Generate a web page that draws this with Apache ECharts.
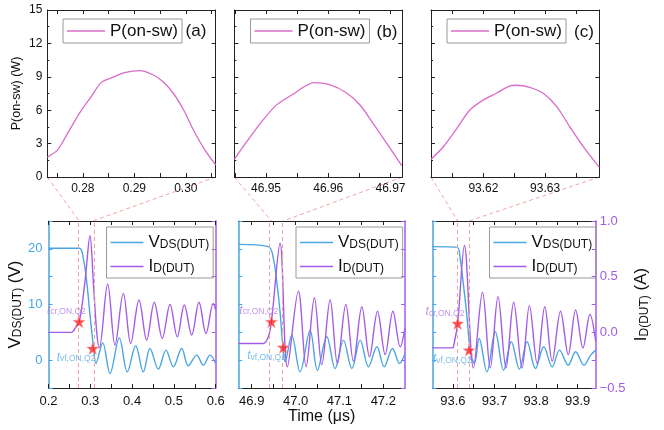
<!DOCTYPE html>
<html><head><meta charset="utf-8">
<script src="https://cdn.jsdelivr.net/npm/echarts@6/dist/echarts.min.js"></script>
<style>html,body{margin:0;padding:0;background:#fff}#c{width:664px;height:430px}</style>
</head><body><div id="c"></div>
<script>
// ---------------- data ----------------
const panelTags = ['(a)', '(b)', '(c)'];
// turn-on instants (dashed lines) = zoom window of the top panels
const tCr = [0.2731, 46.9449, 93.6115];
const tVf = [0.3058, 46.9719, 93.6388];
// star markers
const crStarI = [0.095, 0.095, 0.08];
const vfStarV = [2.1, 2.3, 1.8];
// lower time ranges
const lowMin = [0.2, 46.8694, 93.5505];
const lowMax = [0.6, 47.2495, 93.9435];
const lowLabels = [[0.2, 0.3, 0.4, 0.5, 0.6], [46.9, 47.0, 47.1, 47.2], [93.6, 93.7, 93.8, 93.9]];
const topLabels = [[0.28, 0.29, 0.30], [46.95, 46.96, 46.97], [93.62, 93.63]];
const pLabels = [0, 3, 6, 9, 12, 15];

// P(on-sw) (W)
const P_A = [[0.2731,1.77],[0.2751,2.43],[0.2770,3.9],[0.2793,5.7],[0.2816,7.2],[0.2836,8.5],[0.2858,8.95],[0.2881,9.37],[0.2911,9.55],[0.2937,9.16],[0.2956,8.56],[0.2976,7.5],[0.2996,6.0],[0.3015,4.2],[0.3035,2.58],[0.3058,1.08]];
const P_B = [[46.9449,1.59],[46.9469,3.17],[46.9493,4.97],[46.9514,6.32],[46.9530,6.98],[46.9546,7.52],[46.9560,8.06],[46.9577,8.47],[46.9602,8.29],[46.9629,7.57],[46.9651,6.47],[46.9672,4.82],[46.9694,3.03],[46.9718,1.02]];
const P_C = [[93.6115,1.59],[93.6135,2.72],[93.6157,4.37],[93.6178,6.02],[93.6200,6.92],[93.6221,7.52],[93.6243,8.18],[93.6254,8.24],[93.6275,8.06],[93.6297,7.52],[93.6319,6.32],[93.6340,4.52],[93.6362,2.72],[93.6388,0.87]];

// V_DS(DUT) (V)
const V_A = [[0.2,20.1],[0.2737,20.1],[0.2833,18.3],[0.2914,14.1],[0.2993,8.1],[0.3072,2.7],[0.3136,-0.56],[0.3297,3.1],[0.3471,-2.4],[0.3694,4.0],[0.3885,-2.1],[0.4086,2.6],[0.4268,-2.1],[0.4428,2.1],[0.4627,-1.6],[0.4811,1.8],[0.4986,-1.2],[0.5187,2.1],[0.5344,-1.0],[0.5545,0.9],[0.5703,-0.9],[0.5864,0.9],[0.6,-0.6]];
const V_B = [[46.8694,20.8],[46.9379,20.4],[46.9493,18.3],[46.9571,14.1],[46.9646,8.7],[46.9708,2.7],[46.976,-0.3],[46.9913,4.5],[47.0103,-2.1],[47.0331,5.4],[47.0498,-1.8],[47.0712,4.2],[47.0902,-1.5],[47.1091,3.6],[47.1283,-1.5],[47.1473,3.6],[47.1662,-1.2],[47.1854,2.4],[47.2021,-1.2],[47.221,2.1],[47.237,-0.6],[47.2495,1.2]];
const V_C = [[93.5505,20.4],[93.6094,20.3],[93.6174,18.3],[93.6254,13.5],[93.6336,8.1],[93.6391,3.3],[93.6457,0.3],[93.652,-0.55],[93.6633,3.9],[93.6819,-2.1],[93.702,5.1],[93.722,-1.8],[93.7406,3.3],[93.7599,-1.6],[93.7785,3.3],[93.7986,-1.5],[93.8186,2.4],[93.8389,-1.2],[93.8565,1.8],[93.8775,-0.9],[93.8952,1.5],[93.9152,-0.9],[93.9314,0.9],[93.9435,1.8]];

// I_D(DUT) (A)
const I_A = [[0.2,0],[0.2555,0],[0.2634,0.036],[0.2737,0.095],[0.2873,0.455],[0.2993,0.868],[0.3072,0.455],[0.3153,0.005],[0.3215,-0.14],[0.3416,0.434],[0.3591,-0.114],[0.379,0.35],[0.3967,-0.099],[0.4165,0.29],[0.4349,-0.069],[0.4531,0.27],[0.4722,-0.054],[0.4907,0.25],[0.5081,-0.04],[0.5249,0.245],[0.5426,-0.024],[0.560,0.27],[0.5768,-0.01],[0.5943,0.26],[0.6,0.2]];
const I_B = [[46.8694,-0.10],[46.9265,-0.10],[46.9379,-0.04],[46.9449,0.095],[46.9646,0.80],[46.9813,-0.31],[47.0064,0.37],[47.024,-0.31],[47.0429,0.31],[47.0598,-0.29],[47.0788,0.29],[47.0954,-0.28],[47.1146,0.25],[47.132,-0.26],[47.1511,0.23],[47.1685,-0.22],[47.1868,0.19],[47.2043,-0.2],[47.2219,0.19],[47.2386,-0.13],[47.2495,0.04]];
const I_C = [[93.5505,-0.14],[93.598,-0.14],[93.604,-0.08],[93.6115,0.08],[93.6277,0.78],[93.6495,-0.32],[93.6713,0.36],[93.6899,-0.32],[93.7085,0.32],[93.7278,-0.32],[93.7462,0.27],[93.7664,-0.32],[93.7841,0.24],[93.8027,-0.28],[93.821,0.23],[93.8389,-0.26],[93.8589,0.19],[93.8775,-0.2],[93.8952,0.2],[93.9128,-0.14],[93.9297,0.16],[93.9435,-0.08]];

const P_ALL = [P_A, P_B, P_C], V_ALL = [V_A, V_B, V_C], I_ALL = [I_A, I_B, I_C];

// ---------------- style ----------------
const FONT = 'Liberation Sans, Arial, sans-serif';
const C_P = '#d96cc9', C_V = '#4aa6e2', C_I = '#a45be8', C_AX = '#222', C_DASH = '#f0a3a3', C_STAR = '#ff2424';
const STAR = 'path://M0,-10 L2.35,-3.24 L9.51,-3.09 L3.8,1.24 L5.88,8.09 L0,4 L-5.88,8.09 L-3.8,1.24 L-9.51,-3.09 L-2.35,-3.24 Z';

const topGrids = [
  {left: 47.3, top: 10, width: 168.4, height: 167},
  {left: 234.3, top: 10, width: 168, height: 167},
  {left: 431, top: 10, width: 168.3, height: 167}];
const lowGrids = [
  {left: 48.5, top: 221, width: 167.2, height: 167},
  {left: 238.3, top: 221, width: 166.7, height: 167},
  {left: 432.3, top: 221, width: 163.4, height: 167}];
const topLegendLeft = [63, 250.5, 447];
const lowLegendLeft = [106.5, 296, 489.5];
const tagPos = [[196, 31], [387, 32], [584, 32]];

function halfSteps(labels, step, min, max) {
  const out = [];
  const start = labels[0] - Math.ceil((labels[0] - min) / step) * step;
  for (let v = start; v <= max + 1e-9; v += step) if (v >= min - 1e-9) out.push(+v.toFixed(6));
  return out;
}
const minus = s => String(s).replace('-', '\u2212');

const grid = [...topGrids, ...lowGrids];
const xAxis = [], yAxis = [], series = [], legend = [];

const tickStyle = c => ({inside: true, length: 4, lineStyle: {color: c, width: 1}});
const subRich = {
  b: {fontSize: 17, lineHeight: 17, verticalAlign: 'top', fontFamily: FONT, color: '#111'},
  s: {fontSize: 12, lineHeight: 12, padding: [9, 0, 0, 0], verticalAlign: 'bottom', fontFamily: FONT, color: '#111'}};

for (let k = 0; k < 3; k++) {
  const tTicks = halfSteps(topLabels[k], 0.005, tCr[k], tVf[k]);
  xAxis[k] = {type: 'value', gridIndex: k, min: tCr[k], max: tVf[k], position: 'bottom',
    axisLine: {show: true, onZero: false, lineStyle: {color: C_AX}},
    axisTick: Object.assign(tickStyle(C_AX), {customValues: tTicks}),
    axisLabel: {customValues: topLabels[k], formatter: v => v.toFixed(2), fontSize: 12, color: '#111', margin: 6},
    splitLine: {show: false}};
  xAxis[3 + k] = {type: 'value', gridIndex: k, min: tCr[k], max: tVf[k], position: 'top',
    axisLine: {show: true, onZero: false, lineStyle: {color: C_AX}},
    axisTick: Object.assign(tickStyle(C_AX), {customValues: tTicks}),
    axisLabel: {show: false}, splitLine: {show: false}};
  const lTicks = halfSteps(lowLabels[k], 0.05, lowMin[k], lowMax[k]);
  xAxis[6 + k] = {type: 'value', gridIndex: 3 + k, min: lowMin[k], max: lowMax[k], position: 'bottom',
    axisLine: {show: true, onZero: false, lineStyle: {color: C_AX}},
    axisTick: Object.assign(tickStyle(C_AX), {customValues: lTicks}),
    axisLabel: {customValues: lowLabels[k], formatter: v => v.toFixed(1), fontSize: 13, color: '#111', margin: 7},
    splitLine: {show: false},
    name: k === 1 ? 'Time (\u03bcs)' : '', nameLocation: 'middle', nameGap: 19,
    nameTextStyle: {fontSize: 16, color: '#111', verticalAlign: 'top'}};
  xAxis[9 + k] = {type: 'value', gridIndex: 3 + k, min: lowMin[k], max: lowMax[k], position: 'top',
    axisLine: {show: true, onZero: false, lineStyle: {color: C_AX}},
    axisTick: Object.assign(tickStyle(C_AX), {customValues: lTicks}),
    axisLabel: {show: false}, splitLine: {show: false}};

  yAxis[k] = {type: 'value', gridIndex: k, min: 0, max: 15, interval: 3, position: 'left',
    axisLine: {show: true, onZero: false, lineStyle: {color: C_AX}},
    axisTick: tickStyle(C_AX), minorTick: {show: true, splitNumber: 2, length: 2, lineStyle: {color: C_AX}},
    axisLabel: {show: k === 0, customValues: pLabels, fontSize: 12, color: '#111', margin: 5},
    splitLine: {show: false}, minorSplitLine: {show: false},
    name: k === 0 ? 'P(on-sw) (W)' : '', nameLocation: 'middle', nameGap: 24, nameRotate: 90,
    nameTextStyle: {fontSize: 12.5, color: '#111'}};
  yAxis[3 + k] = {type: 'value', gridIndex: k, min: 0, max: 15, interval: 3, position: 'right',
    axisLine: {show: true, onZero: false, lineStyle: {color: C_AX}},
    axisTick: tickStyle(C_AX), axisLabel: {show: false}, splitLine: {show: false}};
  yAxis[6 + k] = {type: 'value', gridIndex: 3 + k, min: -5, max: 25, interval: 5, position: 'left',
    axisLine: {show: true, onZero: false, lineStyle: {color: C_V, width: 1.5}},
    axisTick: tickStyle(C_V),
    axisLabel: {show: k === 0, formatter: v => (v % 10 === 0 ? String(v) : ''), fontSize: 13, color: C_V, margin: 6},
    splitLine: {show: false},
    name: k === 0 ? '{b|V}{s|DS(DUT)}{b| (V)}' : '', nameLocation: 'middle', nameGap: 22, nameRotate: 90,
    nameTextStyle: {color: '#111', rich: subRich}};
  yAxis[9 + k] = {type: 'value', gridIndex: 3 + k, min: -0.5, max: 1.0, interval: 0.25, position: 'right',
    axisLine: {show: true, onZero: false, lineStyle: {color: C_I, width: 1.5}},
    axisTick: tickStyle(C_I),
    axisLabel: {show: k === 2, formatter: v => (Math.abs(v * 2 - Math.round(v * 2)) < 1e-9 ? minus(v.toFixed(1)) : ''),
      fontSize: 13, color: C_I, margin: 4},
    splitLine: {show: false},
    name: k === 2 ? '{b|I}{s|D(DUT)}{b| (A)}' : '', nameLocation: 'middle', nameGap: 34, nameRotate: 90,
    nameTextStyle: {color: '#111', rich: subRich}};

  series.push({type: 'line', name: 'P(on-sw)', xAxisIndex: k, yAxisIndex: k, data: P_ALL[k],
    symbol: 'none', smooth: 0.3, color: C_P, lineStyle: {color: C_P, width: 1.3}, clip: true, silent: true});
  series.push({type: 'line', name: 'V', xAxisIndex: 6 + k, yAxisIndex: 6 + k, data: V_ALL[k],
    symbol: 'none', smooth: 0.35, color: C_V, lineStyle: {color: C_V, width: 1.4}, clip: true, silent: true,
    markLine: {silent: true, symbol: 'none', label: {show: false},
      lineStyle: {color: C_DASH, type: [4, 3], width: 1},
      data: [{xAxis: tCr[k]}, {xAxis: tVf[k]}]}});
  series.push({type: 'line', name: 'I', xAxisIndex: 6 + k, yAxisIndex: 9 + k, data: I_ALL[k],
    symbol: 'none', smooth: 0.35, color: C_I, lineStyle: {color: C_I, width: 1.4}, clip: true, silent: true});
  const annRich = c => ({
    t: {fontSize: 12, fontStyle: 'italic', color: c, fontFamily: FONT, verticalAlign: 'top', lineHeight: 12},
    s: {fontSize: 8.5, color: c, fontFamily: FONT, padding: [6, 0, 0, 0], verticalAlign: 'bottom', lineHeight: 8.5}});
  series.push({type: 'scatter', name: 'crStar', xAxisIndex: 6 + k, yAxisIndex: 9 + k,
    data: [[tCr[k], crStarI[k]]], symbol: STAR, symbolSize: 12, z: 5,
    itemStyle: {color: C_STAR, borderColor: '#ff9a9a', borderWidth: 0.6},
    label: {show: true, position: [13, -5], align: 'right', verticalAlign: 'middle',
      formatter: '{t|t}{s|cr,ON,Q2}', rich: annRich('#b07ae6')}});
  series.push({type: 'scatter', name: 'vfStar', xAxisIndex: 6 + k, yAxisIndex: 6 + k,
    data: [[tVf[k], vfStarV[k]]], symbol: STAR, symbolSize: 12, z: 5,
    itemStyle: {color: C_STAR, borderColor: '#ff9a9a', borderWidth: 0.6},
    label: {show: true, position: [9, 15], align: 'right', verticalAlign: 'middle',
      formatter: '{t|t}{s|vf,ON,Q2}', rich: annRich('#58ace6')}});

  legend.push({data: [{name: 'P(on-sw)', icon: 'rect'}], left: topLegendLeft[k], top: 19, orient: 'horizontal',
    itemWidth: 38, itemHeight: 1.5, itemGap: 4, padding: [3, 4, 3, 4],
    borderColor: '#9a9a9a', borderWidth: 1, selectedMode: false,
    textStyle: {fontSize: 17, color: '#111', fontFamily: FONT, lineHeight: 18}});
  legend.push({data: [{name: 'V', icon: 'rect'}, {name: 'I', icon: 'rect'}], left: lowLegendLeft[k], top: 227, orient: 'vertical',
    itemWidth: 33, itemHeight: 1.5, itemGap: 3, padding: [3, 4, 3, 4],
    borderColor: '#9a9a9a', borderWidth: 1, selectedMode: false,
    formatter: n => (n === 'V' ? '{b|V}{s|DS(DUT)}' : '{b|I}{s|D(DUT)}'),
    textStyle: {color: '#111', rich: subRich}});
}

const graphic = panelTags.map((t, k) => ({type: 'text', x: tagPos[k][0], y: tagPos[k][1],
  style: {text: t, fontSize: 17, fill: '#111', font: '17px ' + FONT, textAlign: 'center', textVerticalAlign: 'middle'}}));

const chart = echarts.init(document.getElementById('c'), null, {renderer: 'canvas'});
chart.setOption({animation: false, textStyle: {fontFamily: FONT}, grid, xAxis, yAxis, series, legend, graphic});

// zoom connectors: top-panel corners -> dashed lines in lower panel
const conn = [];
for (let k = 0; k < 3; k++) {
  [[tCr[k]], [tVf[k]]].forEach(([t]) => {
    const a = chart.convertToPixel({xAxisIndex: k, yAxisIndex: k}, [t, 0]);
    const b = chart.convertToPixel({xAxisIndex: 6 + k, yAxisIndex: 6 + k}, [t, 25]);
    conn.push({type: 'line', silent: true, shape: {x1: a[0], y1: a[1], x2: b[0], y2: b[1]},
      style: {stroke: C_DASH, lineWidth: 1, lineDash: [4, 3]}});
  });
}
chart.setOption({graphic: graphic.concat(conn)});
</script></body></html>
